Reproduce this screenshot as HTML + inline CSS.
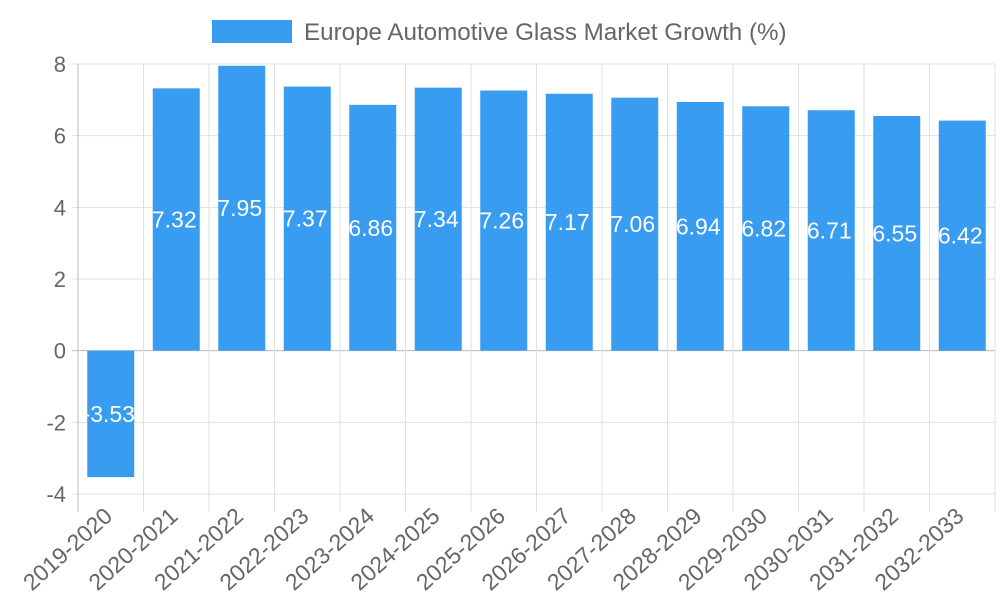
<!DOCTYPE html>
<html><head><meta charset="utf-8"><style>
body{margin:0;background:#fff;}
svg{display:block;font-family:"Liberation Sans",sans-serif;}
</style></head><body>
<svg id="chart" width="1000" height="600">
<g>
<rect x="212" y="20" width="80" height="23" fill="#389cf0"></rect>
<text x="304" y="40" font-size="24.2" fill="#666">Europe Automotive Glass Market Growth (%)</text>
</g>
<g id="grid"></g><g id="bars"></g><g id="labels"></g>
</svg>
<script>
const categories=["2019-2020","2020-2021","2021-2022","2022-2023","2023-2024","2024-2025","2025-2026","2026-2027","2027-2028","2028-2029","2029-2030","2030-2031","2031-2032","2032-2033"];
const values=[-3.53,7.32,7.95,7.37,6.86,7.34,7.26,7.17,7.06,6.94,6.82,6.71,6.55,6.42];
const yTicks=[-4,-2,0,2,4,6,8];
const NS="http://www.w3.org/2000/svg";
const L=78,R=995,T=64,B=494,yMin=-4,yMax=8;
const step=(R-L)/categories.length;
const y=v=>B-(v-yMin)/(yMax-yMin)*(B-T);
const x=i=>L+step*i;
function mk(tag,attrs,parent){const e=document.createElementNS(NS,tag);for(const k in attrs)e.setAttribute(k,attrs[k]);parent.appendChild(e);return e;}
const grid=document.getElementById('grid'),bars=document.getElementById('bars'),labels=document.getElementById('labels');
yTicks.forEach(t=>{
 const ln=mk('line',{x1:L-6,x2:R,y1:y(t),y2:y(t),stroke:t===0?'#bbb':'#e0e0e0','stroke-width':1},grid);
 
 
 const tx=mk('text',{x:L-12,y:y(t)+8,'text-anchor':'end','font-size':22,fill:'#666'},grid);
 tx.textContent=t;
 
 
});
for(let i=0;i<=categories.length;i++){
 const ln=mk('line',{x1:x(i),x2:x(i),y1:T,y2:B+18,stroke:i===0?'#bbb':'#e0e0e0','stroke-width':1},grid);
 
 
}
categories.forEach((c,i)=>{
 const v=values[i],cx=x(i)+step/2,bw=47;
 const y0=y(0),yv=y(v);
 const r=mk('rect',{x:cx-bw/2,y:Math.min(y0,yv),width:bw,height:Math.abs(yv-y0),fill:'#389cf0'},bars);
 
 
 const vt=mk('text',{x:cx-2,y:(y0+yv)/2+8,'text-anchor':'middle','font-size':23,fill:'#fff'},labels);
 vt.textContent=v;
 
 
 const lx=x(i)+step/2+3,ly=B+24;
 const ct=mk('text',{x:lx,y:ly,'text-anchor':'end','font-size':23,fill:'#666',transform:`rotate(-42 ${lx} ${ly})`},labels);
 ct.textContent=c;
 
 
});
</script>
</body></html>
